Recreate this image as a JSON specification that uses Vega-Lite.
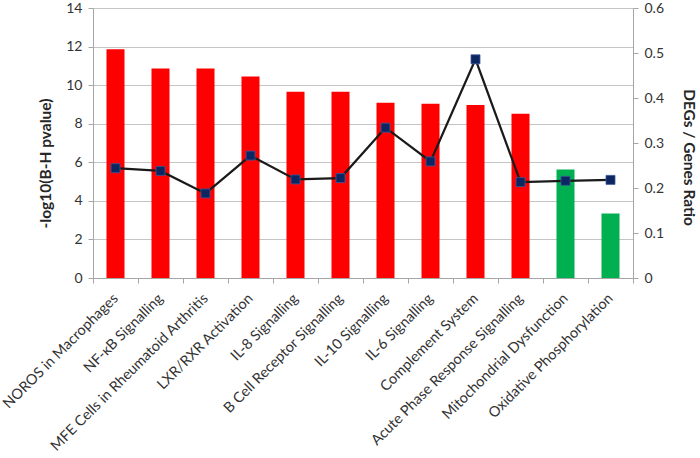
{
  "$schema": "https://vega.github.io/schema/vega-lite/v6.json",
  "width": 540,
  "height": 270,
  "autosize": {"type": "none"},
  "padding": {"left": 93, "top": 8, "right": 67, "bottom": 180},
  "config": {
    "view": {"stroke": null},
    "font": "Lato",
    "axis": {
      "labelFont": "Lato",
      "titleFont": "Lato",
      "labelColor": "#333333",
      "titleColor": "#262626",
      "domainColor": "#a6a6a6",
      "tickColor": "#a6a6a6",
      "gridColor": "#c4c4c4",
      "tickSize": 5,
      "labelFontSize": 14,
      "titleFontSize": 15.5,
      "titleFontWeight": "bold"
    }
  },
  "data": {
    "values": [
      {"pathway": "NOROS in Macrophages", "neglog10p": 11.86, "ratio": 0.244, "cluster": "1"},
      {"pathway": "NF-κB Signalling", "neglog10p": 10.86, "ratio": 0.238, "cluster": "1"},
      {"pathway": "MFE Cells in Rheumatoid Arthritis", "neglog10p": 10.86, "ratio": 0.188, "cluster": "1"},
      {"pathway": "LXR/RXR Activation", "neglog10p": 10.45, "ratio": 0.272, "cluster": "1"},
      {"pathway": "IL-8 Signalling", "neglog10p": 9.66, "ratio": 0.219, "cluster": "1"},
      {"pathway": "B Cell Receptor Signalling", "neglog10p": 9.66, "ratio": 0.222, "cluster": "1"},
      {"pathway": "IL-10 Signalling", "neglog10p": 9.09, "ratio": 0.334, "cluster": "1"},
      {"pathway": "IL-6 Signalling", "neglog10p": 9.04, "ratio": 0.259, "cluster": "1"},
      {"pathway": "Complement System", "neglog10p": 8.97, "ratio": 0.486, "cluster": "1"},
      {"pathway": "Acute Phase Response Signalling", "neglog10p": 8.52, "ratio": 0.213, "cluster": "1"},
      {"pathway": "Mitochondrial Dysfunction", "neglog10p": 5.63, "ratio": 0.216, "cluster": "2"},
      {"pathway": "Oxidative Phosphorylation", "neglog10p": 3.34, "ratio": 0.218, "cluster": "2"}
    ]
  },
  "encoding": {
    "x": {
      "field": "pathway",
      "type": "nominal",
      "sort": null,
      "scale": {"paddingInner": 0, "paddingOuter": 0},
      "axis": {
        "title": null,
        "labelAngle": -45,
        "labelAlign": "right",
        "labelBaseline": "middle",
        "tickBand": "extent",
        "labelPadding": 13,
        "labelFontSize": 14.5,
        "labelLimit": 300
      }
    }
  },
  "layer": [
    {
      "mark": {"type": "bar", "width": {"band": 0.4}},
      "encoding": {
        "y": {
          "field": "neglog10p",
          "type": "quantitative",
          "scale": {"domain": [0, 14], "nice": false},
          "axis": {
            "title": "-log10(B-H pvalue)",
            "values": [0, 2, 4, 6, 8, 10, 12, 14],
            "grid": true,
            "labelPadding": 6,
            "titleAngle": -90,
            "titleX": -48,
            "titleY": 155,
            "titleAlign": "center",
            "titleBaseline": "middle"
          }
        },
        "color": {
          "field": "cluster",
          "type": "nominal",
          "scale": {"domain": ["1", "2"], "range": ["#ff0000", "#00b050"]},
          "legend": null
        }
      }
    },
    {
      "encoding": {
        "y": {
          "field": "ratio",
          "type": "quantitative",
          "scale": {"domain": [0, 0.6], "nice": false},
          "axis": {
            "orient": "right",
            "title": "DEGs / Genes Ratio",
            "values": [0, 0.1, 0.2, 0.3, 0.4, 0.5, 0.6],
            "format": ".1~f",
            "grid": false,
            "labelPadding": 6,
            "titleAngle": 90,
            "titleX": 55,
            "titleY": 149,
            "titleAlign": "center",
            "titleBaseline": "middle"
          }
        }
      },
      "layer": [
        {"mark": {"type": "line", "color": "#1a1a1a", "strokeWidth": 2.2}},
        {"mark": {"type": "point", "shape": "square", "size": 81, "filled": true, "fill": "#0d2560", "stroke": "#3a5a9a", "strokeWidth": 0.8, "opacity": 1}}
      ]
    }
  ],
  "resolve": {"scale": {"y": "independent"}}
}
